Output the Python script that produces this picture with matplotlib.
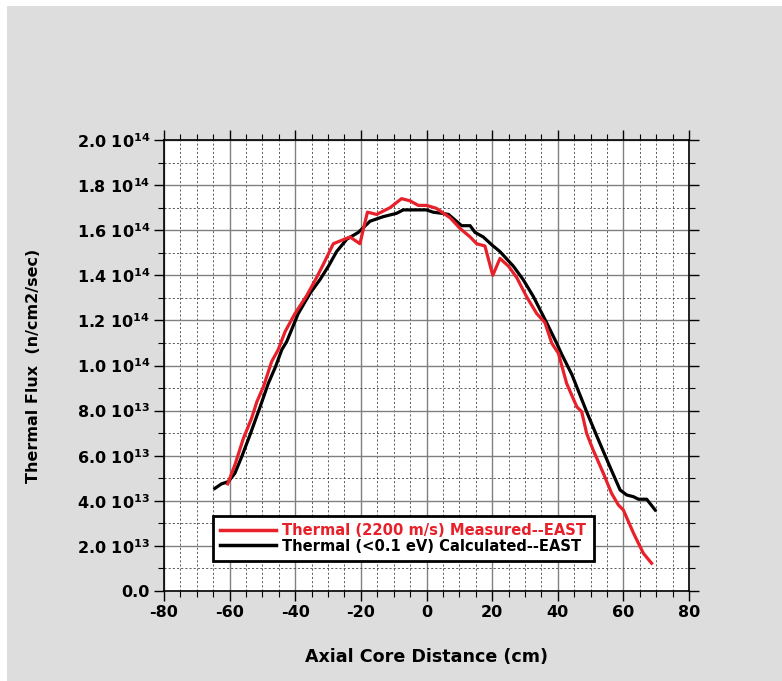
import matplotlib
matplotlib.use("Agg")
import matplotlib.pyplot as plt
from matplotlib.ticker import MultipleLocator, FuncFormatter
from matplotlib.lines import Line2D

plt.rcParams['font.family'] = ['DejaVu Sans']
plt.rcParams['font.weight'] = 'bold'
plt.rcParams['mathtext.fontset'] = 'dejavusans'
plt.rcParams['mathtext.default'] = 'bf'

# Measured thermal flux (2200 m/s), units of 1e13 n/cm2/sec
meas_x = [-60.6, -58.4, -55.8, -53.3, -51.7, -49.7, -47.2, -45.2, -43.1, -40.1,
          -36.5, -33.5, -31.4, -28.4, -23.3, -20.3, -18.0, -15.2, -11.1, -7.6,
          -5.0, -2.5, 0.0, 3.0, 7.2, 10.2, 13.3, 15.3, 17.8, 20.2,
          22.4, 25.0, 27.5, 30.5, 33.6, 36.1, 38.2, 40.2, 42.7, 45.8,
          47.3, 48.8, 50.8, 53.9, 56.4, 58.5, 60.0, 63.1, 66.1, 68.6]
meas_y = [4.75, 5.59, 6.77, 7.66, 8.39, 9.06, 10.17, 10.7, 11.5, 12.3,
          13.1, 13.9, 14.5, 15.4, 15.7, 15.4, 16.8, 16.7, 17.0, 17.4,
          17.3, 17.1, 17.1, 16.97, 16.55, 16.08, 15.7, 15.4, 15.3, 14.0,
          14.75, 14.4, 13.9, 13.05, 12.3, 11.9, 10.98, 10.54, 9.21, 8.17,
          7.95, 6.99, 6.25, 5.22, 4.33, 3.81, 3.59, 2.56, 1.67, 1.23]

# Calculated thermal flux (<0.1 eV), units of 1e13 n/cm2/sec
calc_x = [-64.5, -62.5, -60.4, -58.4, -56.3, -53.8, -50.7, -48.2, -46.0, -44.1,
          -42.6, -39.1, -35.5, -32.5, -29.9, -27.4, -24.3, -20.8, -17.2, -13.2,
          -9.1, -7.1, 0.0, 2.0, 4.6, 6.7, 8.7, 10.7, 13.3, 14.8,
          17.3, 19.9, 22.4, 26.5, 29.5, 32.6, 36.6, 39.7, 41.2, 44.3,
          48.8, 52.4, 55.9, 59.0, 61.0, 63.1, 64.6, 67.1, 69.7]
calc_y = [4.55, 4.75, 4.85, 5.22, 5.96, 6.92, 8.17, 9.21, 9.95, 10.7,
          11.06, 12.3, 13.2, 13.8, 14.4, 15.05, 15.6, 15.9, 16.4, 16.6,
          16.75, 16.9, 16.9, 16.8, 16.75, 16.7, 16.45, 16.2, 16.2, 15.9,
          15.7, 15.35, 15.05, 14.4, 13.8, 13.05, 11.9, 10.98, 10.5, 9.6,
          7.95, 6.70, 5.51, 4.48, 4.26, 4.18, 4.07, 4.07, 3.59]

series_labels = ["Thermal (2200 m/s) Measured--EAST",
                 "Thermal (<0.1 eV) Calculated--EAST"]
RED = "#e8202a"
BG = "#dcdddc"

fig = plt.figure(figsize=(7.82, 6.81), dpi=100)
fig.patch.set_facecolor("white")
# gray panel behind everything (white strip on top/left)
fig.patches.append(plt.Rectangle((7 / 782, 0), 1, (681 - 6) / 681,
                                 transform=fig.transFigure, facecolor=BG,
                                 edgecolor="none", zorder=-10))

ax = fig.add_axes([164 / 782, (681 - 591) / 681, (689 - 164) / 782, (591 - 140) / 681])
ax.set_facecolor("white")

ax.plot(calc_x, [v * 1e13 for v in calc_y], color="black", lw=2.3, zorder=3,
        solid_joinstyle="round")
ax.plot(meas_x, [v * 1e13 for v in meas_y], color=RED, lw=2.3, zorder=4,
        solid_joinstyle="round")

ax.set_xlim(-80, 80)
ax.set_ylim(0, 2.0e14)
ax.xaxis.set_major_locator(MultipleLocator(20))
ax.xaxis.set_minor_locator(MultipleLocator(5))
ax.yaxis.set_major_locator(MultipleLocator(2e13))
ax.yaxis.set_minor_locator(MultipleLocator(1e13))


def yfmt(v, pos):
    if abs(v) < 1:
        return "0.0"
    e = 13 if v < 0.95e14 else 14
    m = v / 10 ** e
    return "%.1f 10$^{\\mathbf{%d}}$" % (m, e)


ax.yaxis.set_major_formatter(FuncFormatter(yfmt))
ax.xaxis.set_major_formatter(FuncFormatter(lambda v, p: "%d" % v))

ax.grid(which="major", color="#808080", lw=1.0, ls="-", zorder=1)
ax.grid(which="minor", color="#444444", lw=0.6, ls=(0, (2.5, 2.5)), zorder=1)
ax.set_axisbelow(True)

ax.tick_params(which="both", direction="out", top=True, right=True,
               labeltop=False, labelright=False, colors="black")
ax.tick_params(which="major", length=7, width=1.0, labelsize=11.5, pad=3)
ax.tick_params(which="minor", length=4, width=0.8)
for s in ax.spines.values():
    s.set_linewidth(1.2)
    s.set_color("black")
for lab in ax.get_xticklabels() + ax.get_yticklabels():
    lab.set_fontweight("bold")

ax.set_xlabel("Axial Core Distance (cm)", fontsize=12.6, fontweight="bold", labelpad=20)
ax.set_ylabel("Thermal Flux  (n/cm2/sec)", fontsize=11.5, fontweight="bold", labelpad=26)

handles = [Line2D([], [], color=RED, lw=2.5), Line2D([], [], color="black", lw=2.5)]
leg = ax.legend(handles, series_labels, loc="lower left",
                bbox_to_anchor=((213 - 164) / 525, (591 - 561) / 451),
                frameon=True, fancybox=False, framealpha=1, edgecolor="black",
                fontsize=10.6, handlelength=3.8, handletextpad=0.4,
                borderpad=0.5, labelspacing=0.05, borderaxespad=0)
leg.get_frame().set_linewidth(2.0)
leg.set_zorder(10)
for t, c in zip(leg.get_texts(), [RED, "black"]):
    t.set_color(c)
    t.set_fontweight("bold")

fig.savefig("out.png", dpi=100, facecolor=fig.get_facecolor())
